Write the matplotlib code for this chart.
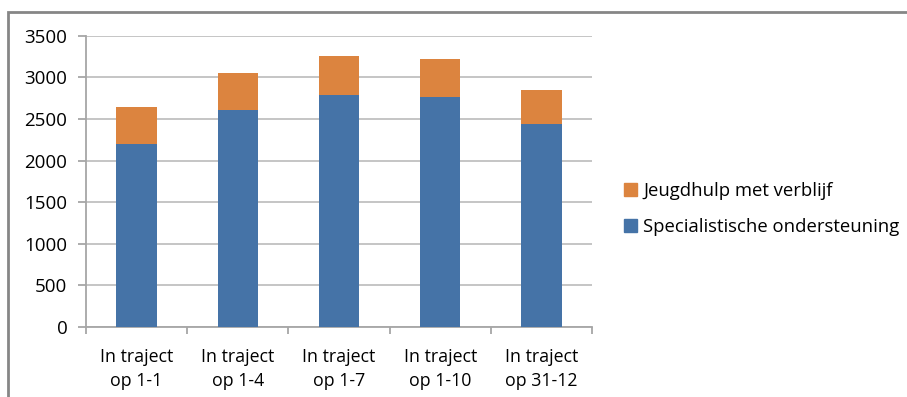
import numpy as np
import matplotlib
matplotlib.use("Agg")
import matplotlib.pyplot as plt
from matplotlib.patches import Rectangle, Patch

plt.rcParams['font.family'] = ['Open Sans', 'DejaVu Sans']

# trajecten per peildatum
categories = ["In traject\nop 1-1", "In traject\nop 1-4", "In traject\nop 1-7",
              "In traject\nop 1-10", "In traject\nop 31-12"]
specialistisch = [2200, 2608, 2788, 2764, 2444]
verblijf = [441, 441, 469, 457, 405]
series_names = ["Specialistische ondersteuning", "Jeugdhulp met verblijf"]
yticks = [0, 500, 1000, 1500, 2000, 2500, 3000, 3500]

blue = "#4573a7"
orange = "#dc843f"
grid_col = "#c0c0c0"
axis_col = "#a6a6a6"

fig = plt.figure(figsize=(9.07, 3.97), dpi=100)
ax = fig.add_axes([86 / 907, 1 - 327 / 397, (592 - 86) / 907, (327 - 35.7) / 397])

x = np.arange(len(categories))
ax.bar(x, specialistisch, width=0.4, color=blue, zorder=3)
ax.bar(x, verblijf, width=0.4, bottom=specialistisch, color=orange, zorder=3)

ax.set_xlim(-0.5, len(categories) - 0.5)
ax.set_ylim(0, 3500)
ax.set_yticks(yticks)
ax.yaxis.grid(True, color=grid_col, linewidth=1.3, zorder=0)
ax.set_axisbelow(True)

# category labels between boundary ticks
ax.set_xticks(np.arange(len(categories) + 1) - 0.5)
ax.set_xticklabels([])
ax.set_xticks(x, minor=True)
ax.set_xticklabels(categories, minor=True, fontsize=12.8, linespacing=1.45)
ax.tick_params(axis='x', which='minor', length=0, pad=15)
ax.tick_params(axis='x', which='major', length=5, width=1.3, color=axis_col)
ax.tick_params(axis='y', length=5.5, width=1.3, color=axis_col, labelsize=13.5, pad=8)

for side in ["top", "right"]:
    ax.spines[side].set_visible(False)
ax.spines["left"].set_color(axis_col)
ax.spines["bottom"].set_color(axis_col)
ax.spines["left"].set_linewidth(1.3)
ax.spines["bottom"].set_linewidth(1.3)

handles = [Patch(color=orange), Patch(color=blue)]
fig.legend(handles, [series_names[1], series_names[0]],
           loc="center left", bbox_to_anchor=(624 / 907, 1 - 209 / 397),
           frameon=False, fontsize=13.3, handlelength=0.7, handleheight=0.7,
           handletextpad=0.35, labelspacing=1.0, borderaxespad=0, borderpad=0)

# chart border
fig.add_artist(Rectangle((8 / 907, -0.1), 1.2, 1 - 12.5 / 397 + 0.1,
                         transform=fig.transFigure, fill=False,
                         edgecolor="#868686", linewidth=2))

fig.savefig("out.png", dpi=100)
